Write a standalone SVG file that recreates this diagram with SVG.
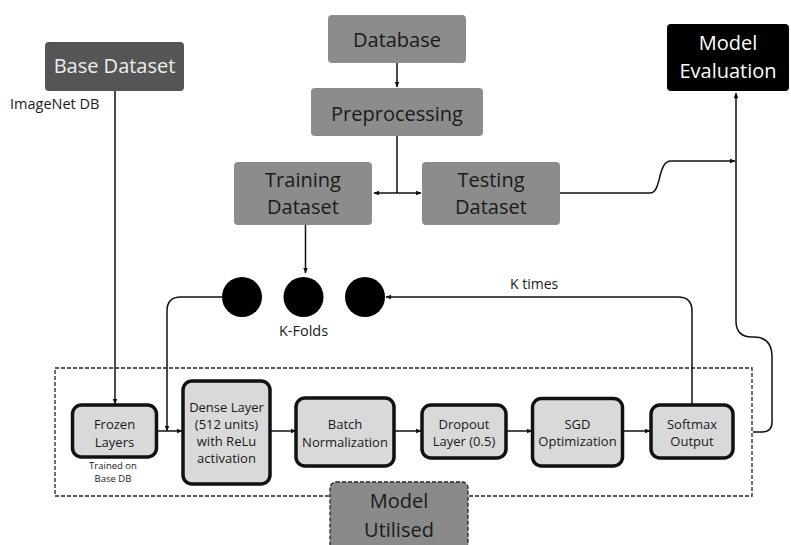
<svg xmlns="http://www.w3.org/2000/svg" width="791" height="545" viewBox="0 0 791 545">
<defs>
<marker id="arr" viewBox="0 0 10 10" refX="9" refY="5" markerWidth="6" markerHeight="6" orient="auto-start-reverse" markerUnits="userSpaceOnUse">
<path d="M0,1 L10,5 L0,9 z" fill="#111"/>
</marker>
<style>
text{font-family:"Open Sans","Noto Sans","Liberation Sans",sans-serif;text-anchor:middle;fill:#1a1a1a}
.big{font-size:20px}
.mid{font-size:13px}
.lbl{font-size:14.5px;text-anchor:start}
.tiny{font-size:9.5px}
.gray{fill:#8c8c8c}
.layer{fill:#d9d9d9;stroke:#111;stroke-width:3.5}
.con{fill:none;stroke:#111;stroke-width:1.5}
.arr{marker-end:url(#arr)}
.dash{fill:none;stroke:#222;stroke-width:1.3;stroke-dasharray:4 2}
</style>
</defs>
<rect width="791" height="545" fill="#fff"/>

<g id="model-box-frame">
<rect class="dash" x="55" y="368" width="697" height="128"/>
</g>

<g id="connectors">
<path class="con arr" d="M115,91 V404"/>
<path class="con arr" d="M397,63 V87"/>
<path class="con" d="M397,136 V193"/>
<path class="con arr" d="M397,193 H374"/>
<path class="con arr" d="M397,193 H421"/>
<path class="con arr" d="M305.5,225 V273"/>
<path class="con arr" d="M560,193 H650 C662,193 657,161 671,161 H735"/>
<path class="con arr" d="M753,432 H762 Q772,432 772,422 V357 Q772,337 754,337 H752 Q736,337 736,321 V93"/>
<path class="con arr" d="M692,405 V311 Q692,297 678,297 H386"/>
<path class="con arr" d="M222,297 H181 Q167,297 167,311 V431"/>
<path class="con arr" d="M157,431 H182"/>
<path class="con arr" d="M270,431 H296"/>
<path class="con arr" d="M394,431 H421"/>
<path class="con arr" d="M506,431 H532"/>
<path class="con arr" d="M623,431 H650"/>
</g>

<g id="base-dataset">
<rect x="45" y="42" width="139" height="49" rx="4" fill="#555"/>
<text class="big" x="114.5" y="73.3" style="fill:#eee">Base Dataset</text>
</g>
<g id="imagenet-label"><text class="lbl" x="10" y="109.3">ImageNet DB</text></g>

<g id="database">
<rect class="gray" x="328" y="15" width="138" height="48" rx="4"/>
<text class="big" x="397" y="46.7">Database</text>
</g>
<g id="preprocessing">
<rect class="gray" x="311" y="88" width="172" height="48" rx="4"/>
<text class="big" x="397" y="120.7">Preprocessing</text>
</g>
<g id="training">
<rect class="gray" x="234" y="162" width="138" height="63" rx="4"/>
<text class="big" x="303" y="186.7">Training</text>
<text class="big" x="303" y="214">Dataset</text>
</g>
<g id="testing">
<rect class="gray" x="422" y="162" width="138" height="63" rx="4"/>
<text class="big" x="491" y="186.7">Testing</text>
<text class="big" x="491" y="214">Dataset</text>
</g>
<g id="model-evaluation">
<rect x="667" y="24" width="122" height="67" rx="4" fill="#000"/>
<text class="big" x="728" y="50" style="fill:#fff">Model</text>
<text class="big" x="728" y="78.3" style="fill:#fff">Evaluation</text>
</g>

<g id="k-folds">
<circle cx="242" cy="297" r="20" fill="#000"/>
<circle cx="303.5" cy="297" r="20" fill="#000"/>
<circle cx="365" cy="297" r="20" fill="#000"/>
<text x="303.5" y="336" style="font-size:14.5px">K-Folds</text>
</g>
<g id="k-times-label"><text class="lbl" x="510" y="289.3" style="font-size:14px">K times</text></g>

<g id="frozen">
<rect class="layer" x="72.5" y="405" width="84" height="52" rx="9"/>
<text class="mid" x="114.5" y="429.3">Frozen</text>
<text class="mid" x="114.5" y="446.7">Layers</text>
<text class="tiny" x="113" y="469">Trained on</text>
<text class="tiny" x="113" y="481.7">Base DB</text>
</g>
<g id="dense">
<rect class="layer" x="183" y="381" width="87" height="103" rx="9"/>
<text class="mid" x="226.5" y="411.7">Dense Layer</text>
<text class="mid" x="226.5" y="428.8">(512 units)</text>
<text class="mid" x="226.5" y="446">with ReLu</text>
<text class="mid" x="226.5" y="462.7">activation</text>
</g>
<g id="batch-norm">
<rect class="layer" x="296" y="398" width="98" height="68" rx="9"/>
<text class="mid" x="345" y="429.3">Batch</text>
<text class="mid" x="345" y="446.7">Normalization</text>
</g>
<g id="dropout">
<rect class="layer" x="422" y="405" width="84" height="53" rx="9"/>
<text class="mid" x="464" y="429">Dropout</text>
<text class="mid" x="464" y="446.4">Layer (0.5)</text>
</g>
<g id="sgd">
<rect class="layer" x="532.5" y="398.5" width="90" height="67.5" rx="9"/>
<text class="mid" x="577.5" y="429">SGD</text>
<text class="mid" x="577.5" y="446.4">Optimization</text>
</g>
<g id="softmax">
<rect class="layer" x="651" y="405" width="82" height="53" rx="9"/>
<text class="mid" x="692" y="429">Softmax</text>
<text class="mid" x="692" y="446.4">Output</text>
</g>

<g id="model-utilised">
<rect x="330" y="482" width="138" height="75" rx="6" fill="#8a8a8a" stroke="#222" stroke-width="1.3" stroke-dasharray="4 2"/>
<text class="big" x="399" y="508.3">Model</text>
<text class="big" x="399" y="536.7">Utilised</text>
</g>
</svg>
